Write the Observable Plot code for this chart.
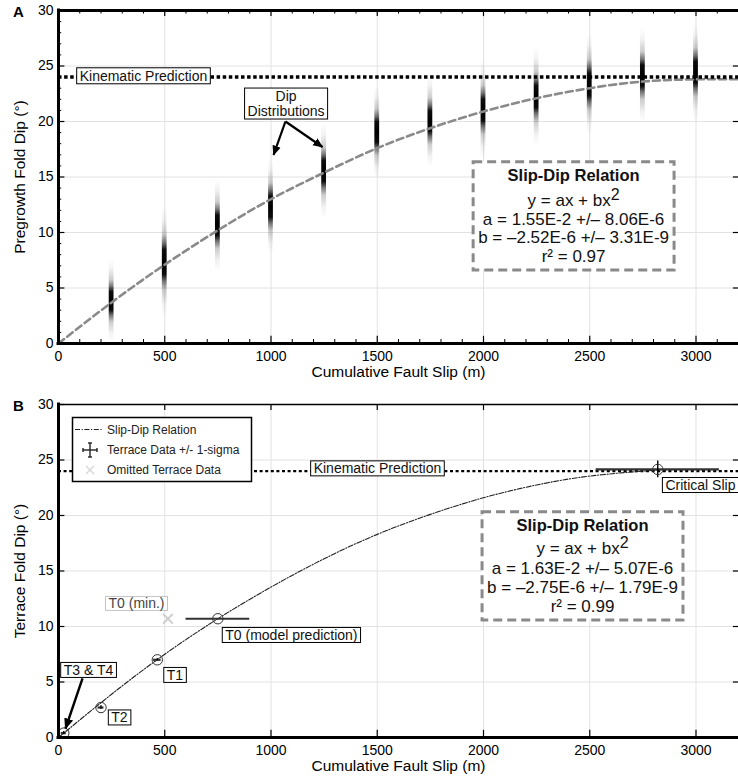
<!DOCTYPE html>
<html>
<head>
<meta charset="utf-8">
<script src="https://cdn.jsdelivr.net/npm/d3@7"></script>
<script src="https://cdn.jsdelivr.net/npm/@observablehq/plot@0.6"></script>
<style>
  html, body { margin: 0; padding: 0; background: #fff; }
  #chart { width: 738px; height: 782px; overflow: hidden; font-family: "Liberation Sans", Arial, Helvetica, sans-serif; }
  #chart svg { display: block; }
</style>
</head>
<body>
<div id="chart"></div>
<script>
// ================= shared axis values =================
const slipTicks = [0, 500, 1000, 1500, 2000, 2500, 3000];
const dipTicks = [0, 5, 10, 15, 20, 25, 30];
const slipMinorTicks = [100,200,300,400,600,700,800,900,1100,1200,1300,1400,1600,1700,1800,1900,2100,2200,2300,2400,2600,2700,2800,2900,3100];
const dipMinorTicks = [1,2,3,4,6,7,8,9,11,12,13,14,16,17,18,19,21,22,23,24,26,27,28,29];
const slipDomain = [0, 3200];
const dipDomain = [0, 30];
const kinematicDip = 24;
const xAxisTitle = "Cumulative Fault Slip (m)";

// ================= Panel A data =================
const panelALetter = "A";
const yAxisTitleA = "Pregrowth Fold Dip (°)";
// dip distributions (centre and half-extent of the smeared bar)
const distSlip = [250, 500, 750, 1000, 1250, 1500, 1750, 2000, 2250, 2500, 2750, 3000];
const distDip = [3.8, 7.3, 10.6, 12.3, 15.5, 19.0, 20.0, 21.0, 22.2, 23.3, 24.1, 24.4];
const distHalf = [3.8, 5.0, 4.2, 4.3, 4.3, 4.2, 4.2, 4.4, 4.5, 4.6, 4.3, 4.4];
// slip-dip relation
const fitASlip = [0, 250, 500, 750, 1000, 1250, 1500, 1750, 2000, 2250, 2500, 2750, 3000, 3200];
const fitADip = [0, 3.7, 7.1, 10.2, 13.0, 15.4, 17.6, 19.4, 20.9, 22.1, 23.0, 23.6, 23.8, 23.8];
// annotations
const labelsAText = ["Kinematic Prediction", "Dip\nDistributions"];
const labelsASlip = [400, 1071];
const labelsADip = [24.1, 21.6];
const arrowsAFromSlip = [1068, 1068];
const arrowsAFromDip = [20.0, 20.0];
const arrowsAToSlip = [1012, 1242];
const arrowsAToDip = [17.0, 17.7];
const fitATitle = "Slip-Dip Relation";
const fitALines = ["y = ax + bx²", "a = 1.55E-2 +/– 8.06E-6", "b = –2.52E-6 +/– 3.31E-9", "r² = 0.97"];
const fitABoxSlip = 2424;
const fitATitleDip = 15.14;
const fitABodyDip = 10.38;

// ================= Panel B data =================
const panelBLetter = "B";
const yAxisTitleB = "Terrace Fold Dip (°)";
const fitBSlip = [0, 250, 500, 750, 1000, 1250, 1500, 1750, 2000, 2250, 2500, 2750, 2820];
const fitBDip = [0, 3.9, 7.5, 10.7, 13.55, 16.1, 18.3, 20.1, 21.6, 22.75, 23.55, 24.0, 24.1];
const terraceSlip = [25, 200, 465, 750, 2820];
const terraceDip = [0.4, 2.7, 7.0, 10.7, 24.15];
const terraceSlipErr = [12, 14, 18, 150, 290];
const terraceDipErr = [0.15, 0.15, 0.1, 0, 0.75];
const omittedSlip = [515];
const omittedDip = [10.7];
const labelsBText = ["Kinematic Prediction", "T0 (model prediction)", "T1", "T2", "T3 & T4"];
const labelsBSlip = [1501, 1096, 548, 287, 141];
const labelsBDip = [24.2, 9.19, 5.59, 1.76, 6.04];
const criticalLabel = "Critical Slip";
const criticalLabelSlip = 2856;
const criticalLabelDip = 22.7;
const omittedLabel = "T0 (min.)";
const omittedLabelSlip = 367;
const omittedLabelDip = 12.03;
const arrowBFromSlip = [113];
const arrowBFromDip = [5.32];
const arrowBToSlip = [33];
const arrowBToDip = [0.81];
const fitBTitle = "Slip-Dip Relation";
const fitBLines = ["y = ax + bx²", "a = 1.63E-2 +/– 5.07E-6", "b = –2.75E-6 +/– 1.79E-9", "r² = 0.99"];
const fitBBoxSlip = 2466;
const fitBTitleDip = 19.1;
const fitBBodyDip = 14.46;
const legendLabels = ["Slip-Dip Relation", "Terrace Data +/- 1-sigma", "Omitted Terrace Data"];

// ================= helpers =================
const FONT = '"Liberation Sans", Arial, Helvetica, sans-serif';
const idx = (arr) => d3.range(arr.length);

function gridMarks() {
  return [
    Plot.ruleX(slipTicks.slice(1), {stroke: "#e2e2e2", strokeWidth: 1}),
    Plot.ruleY(dipTicks.slice(1, -1), {stroke: "#e2e2e2", strokeWidth: 1})
  ];
}

function frameMarks({minor, topWidth}) {
  const m = [];
  if (minor) {
    m.push(
      Plot.ruleX(slipMinorTicks, {y1: 0, y2: 0.36, stroke: "black", strokeWidth: 1}),
      Plot.ruleX(slipMinorTicks, {y1: 30, y2: 29.68, stroke: "black", strokeWidth: 1}),
      Plot.ruleY(dipMinorTicks, {x1: 0, x2: 15, stroke: "black", strokeWidth: 1})
    );
  }
  m.push(
    Plot.ruleX(slipTicks, {y1: 0, y2: 0.65, stroke: "black", strokeWidth: 1.2}),
    Plot.ruleX(slipTicks, {y1: 30, y2: 29.45, stroke: "black", strokeWidth: 1.2}),
    Plot.ruleY(dipTicks, {x1: 0, x2: 30, stroke: "black", strokeWidth: 1.2}),
    Plot.ruleY(dipTicks, {x1: slipDomain[1], x2: slipDomain[1] - 24, stroke: "black", strokeWidth: 1.2}),
    Plot.ruleY([0], {stroke: "black", strokeWidth: 3, strokeLinecap: "square"}),
    Plot.ruleX([0], {stroke: "black", strokeWidth: 3, strokeLinecap: "square"}),
    Plot.ruleY([30], {stroke: "black", strokeWidth: topWidth}),
    Plot.axisX({ticks: slipTicks, tickSize: 0, tickPadding: 8, tickFormat: (d) => String(d), label: null, fontSize: 14}),
    Plot.axisY({ticks: dipTicks, tickSize: 0, tickPadding: 5, tickFormat: (d) => String(d), label: null, fontSize: 14})
  );
  return m;
}

function titleMarks(letter, yTitle) {
  return [
    Plot.text([xAxisTitle], {frameAnchor: "bottom", dy: 29, fontSize: 15.5, lineAnchor: "middle", textAnchor: "middle"}),
    Plot.text([yTitle], {frameAnchor: "left", dx: -38, rotate: -90, fontSize: 15.5, lineAnchor: "middle", textAnchor: "middle"}),
    Plot.text([letter], {frameAnchor: "top-left", dx: -40, dy: 2, fontSize: 15, fontWeight: "bold", lineAnchor: "middle", textAnchor: "middle"})
  ];
}

function fitBoxMarks(slip, titleDip, bodyDip, title, lines, lineHeight) {
  return [
    Plot.text([title], {x: () => slip, y: () => titleDip, fontSize: 16.5, fontWeight: "bold", fill: "#111"}),
    Plot.text([lines.join("\n")], {x: () => slip, y: () => bodyDip, fontSize: 17, lineHeight, fill: "#111"})
  ];
}

// ================= Panel A =================
const chartA = Plot.plot({
  width: 738, height: 390,
  marginLeft: 58, marginRight: 0, marginTop: 10, marginBottom: 47,
  x: {domain: slipDomain},
  y: {domain: dipDomain},
  style: {fontFamily: FONT, fontSize: "14px", color: "black", background: "white", overflow: "visible"},
  marks: [
    ...gridMarks(),
    Plot.rect(idx(distSlip), {
      x1: (i) => distSlip[i], x2: (i) => distSlip[i],
      y1: (i) => distDip[i] - distHalf[i], y2: (i) => distDip[i] + distHalf[i],
      insetLeft: -2.4, insetRight: -2.4, fill: "url(#dipgrad)"
    }),
    Plot.line(idx(fitASlip), {x: (i) => fitASlip[i], y: (i) => fitADip[i], curve: "natural",
      stroke: "#8a8a8a", strokeWidth: 2.6, strokeDasharray: "7,4"}),
    Plot.ruleY([kinematicDip], {stroke: "black", strokeWidth: 3.5, strokeDasharray: "3.5,2.6"}),
    Plot.link(idx(arrowsAFromSlip), {
      x1: (i) => arrowsAFromSlip[i], y1: (i) => arrowsAFromDip[i],
      x2: (i) => arrowsAToSlip[i], y2: (i) => arrowsAToDip[i],
      stroke: "black", strokeWidth: 2.2
    }),
    Plot.text(idx(labelsAText), {x: (i) => labelsASlip[i], y: (i) => labelsADip[i], text: (i) => labelsAText[i],
      fontSize: 14, lineHeight: 1.07, fill: "#111"}),
    ...fitBoxMarks(fitABoxSlip, fitATitleDip, fitABodyDip, fitATitle, fitALines, 1.09),
    ...frameMarks({minor: true, topWidth: 3}),
    ...titleMarks(panelALetter, yAxisTitleA)
  ]
});

// ================= Panel B =================
const tIdx = idx(terraceSlip);
const chartB = Plot.plot({
  width: 738, height: 392,
  marginLeft: 58, marginRight: 0, marginTop: 14, marginBottom: 45,
  x: {domain: slipDomain},
  y: {domain: dipDomain},
  style: {fontFamily: FONT, fontSize: "14px", color: "black", background: "white", overflow: "visible"},
  marks: [
    ...gridMarks(),
    Plot.ruleY([kinematicDip], {stroke: "black", strokeWidth: 2.4, strokeDasharray: "3,2.6"}),
    Plot.line(idx(fitBSlip), {x: (i) => fitBSlip[i], y: (i) => fitBDip[i], curve: "natural",
      stroke: "#222", strokeWidth: 1.1, strokeDasharray: "5,1.6,1.2,1.6"}),
    Plot.ruleY(tIdx, {y: (i) => terraceDip[i], x1: (i) => terraceSlip[i] - terraceSlipErr[i], x2: (i) => terraceSlip[i] + terraceSlipErr[i],
      stroke: "#333", strokeWidth: 2.2}),
    Plot.ruleX(tIdx.filter((i) => terraceDipErr[i] > 0), {x: (i) => terraceSlip[i],
      y1: (i) => terraceDip[i] - terraceDipErr[i], y2: (i) => terraceDip[i] + terraceDipErr[i], stroke: "black", strokeWidth: 1.4}),
    Plot.dot(tIdx, {x: (i) => terraceSlip[i], y: (i) => terraceDip[i], r: 5.2, stroke: "#333", fill: "none", strokeWidth: 1}),
    Plot.dot(idx(omittedSlip), {x: (i) => omittedSlip[i], y: (i) => omittedDip[i], symbol: "times", r: 4.5,
      stroke: "#cdcdcd", strokeWidth: 2}),
    Plot.link(idx(arrowBFromSlip), {
      x1: (i) => arrowBFromSlip[i], y1: (i) => arrowBFromDip[i],
      x2: (i) => arrowBToSlip[i], y2: (i) => arrowBToDip[i],
      stroke: "black", strokeWidth: 2.4
    }),
    Plot.text(idx(labelsBText), {x: (i) => labelsBSlip[i], y: (i) => labelsBDip[i], text: (i) => labelsBText[i],
      fontSize: 14, fill: "#111"}),
    Plot.text([criticalLabel], {x: () => criticalLabelSlip, y: () => criticalLabelDip, textAnchor: "start",
      fontSize: 14, fill: "#111"}),
    Plot.text([omittedLabel], {x: () => omittedLabelSlip, y: () => omittedLabelDip,
      fontSize: 14, fill: "#444"}),
    ...fitBoxMarks(fitBBoxSlip, fitBTitleDip, fitBBodyDip, fitBTitle, fitBLines, 1.135),
    ...frameMarks({minor: false, topWidth: 1.6}),
    ...titleMarks(panelBLetter, yAxisTitleB)
  ]
});

const root = document.getElementById("chart");
root.appendChild(chartA);
root.appendChild(chartB);

// ================= post-processing =================
const NS = "http://www.w3.org/2000/svg";

function addDefs(svg, markerId, withGradient) {
  const grad = withGradient ? `
    <linearGradient id="dipgrad" x1="0" y1="0" x2="0" y2="1">
      <stop offset="0" stop-color="#000" stop-opacity="0"/>
      <stop offset="0.12" stop-color="#000" stop-opacity="0.05"/>
      <stop offset="0.25" stop-color="#000" stop-opacity="0.2"/>
      <stop offset="0.33" stop-color="#000" stop-opacity="0.55"/>
      <stop offset="0.39" stop-color="#000" stop-opacity="0.95"/>
      <stop offset="0.5" stop-color="#000" stop-opacity="1"/>
      <stop offset="0.61" stop-color="#000" stop-opacity="0.95"/>
      <stop offset="0.67" stop-color="#000" stop-opacity="0.55"/>
      <stop offset="0.75" stop-color="#000" stop-opacity="0.2"/>
      <stop offset="0.88" stop-color="#000" stop-opacity="0.05"/>
      <stop offset="1" stop-color="#000" stop-opacity="0"/>
    </linearGradient>` : "";
  d3.select(svg).insert("defs", ":first-child").html(grad + `
    <marker id="${markerId}" viewBox="0 0 10 10" refX="9" refY="5" markerWidth="4.6" markerHeight="4.6" orient="auto" markerUnits="strokeWidth">
      <path d="M0,0.8L10,5L0,9.2z" fill="black"/>
    </marker>`);
}

function setArrows(svg, markerId) {
  svg.querySelectorAll('g[aria-label="link"] path, g[aria-label="link"] line').forEach((p) => {
    p.setAttribute("marker-end", `url(#${markerId})`);
  });
}

function superscripts(svg) {
  const walker = document.createTreeWalker(svg, NodeFilter.SHOW_TEXT);
  const nodes = [];
  while (walker.nextNode()) nodes.push(walker.currentNode);
  nodes.forEach((n) => {
    if (n.data.includes("bx²")) {
      n.data = n.data.replace("bx²", "bx");
      const t = document.createElementNS(NS, "tspan");
      t.setAttribute("baseline-shift", "6");
      t.setAttribute("font-size", "16");
      t.textContent = "2";
      n.parentNode.appendChild(t);
    }
  });
}

const norm = (s) => s.replace(/[\s\n]/g, "");
function findTexts(svg, match) {
  return [...svg.querySelectorAll("text")].filter((t) => match(norm(t.textContent)));
}

function makeRect(box, pad, style) {
  const r = document.createElementNS(NS, "rect");
  r.setAttribute("x", box.x0 - pad.x);
  r.setAttribute("y", box.y0 - pad.y);
  r.setAttribute("width", box.x1 - box.x0 + 2 * pad.x);
  r.setAttribute("height", box.y1 - box.y0 + 2 * pad.y);
  for (const [k, v] of Object.entries(style)) r.setAttribute(k, v);
  return r;
}

function boxOf(svg, t) {
  const base = svg.getBoundingClientRect();
  const r = t.getBoundingClientRect();
  return {x0: r.left - base.left, y0: r.top - base.top, x1: r.right - base.left, y1: r.bottom - base.top};
}

// insert a rect at the svg root, right before the mark group holding the text
function insertBeforeGroup(svg, t, rect) {
  let g = t;
  while (g.parentNode && g.parentNode !== svg) g = g.parentNode;
  svg.insertBefore(rect, g);
}

function boxLabels(svg, labels, pad, style) {
  const wanted = new Set(labels.map(norm));
  findTexts(svg, (s) => wanted.has(s)).forEach((t) => {
    insertBeforeGroup(svg, t, makeRect(boxOf(svg, t), pad, style));
  });
}

function boxUnion(svg, matchers, pad, style) {
  const texts = findTexts(svg, (s) => matchers.some((m) => s.includes(norm(m))));
  if (!texts.length) return;
  let b = {x0: Infinity, y0: Infinity, x1: -Infinity, y1: -Infinity};
  texts.forEach((t) => {
    const c = boxOf(svg, t);
    b = {x0: Math.min(b.x0, c.x0), y0: Math.min(b.y0, c.y0), x1: Math.max(b.x1, c.x1), y1: Math.max(b.y1, c.y1)};
  });
  const first = texts.reduce((a, t) => (a.compareDocumentPosition(t) & Node.DOCUMENT_POSITION_PRECEDING) ? t : a);
  insertBeforeGroup(svg, first, makeRect(b, pad, style));
}

addDefs(chartA, "aheadA", true);
addDefs(chartB, "aheadB", false);
setArrows(chartA, "aheadA");
setArrows(chartB, "aheadB");
superscripts(chartA);
superscripts(chartB);

const thinBox = {fill: "white", stroke: "black", "stroke-width": 1};
const grayBox = {fill: "white", stroke: "#c4c4c4", "stroke-width": 1};
const dashBox = {fill: "white", stroke: "#8a8a8a", "stroke-width": 3, "stroke-dasharray": "9,5"};
boxLabels(chartA, labelsAText, {x: 3, y: 0}, thinBox);
boxLabels(chartB, labelsBText.concat([criticalLabel]), {x: 3, y: -0.5}, thinBox);
boxLabels(chartB, [omittedLabel], {x: 3, y: -1}, grayBox);
boxUnion(chartA, [fitATitle, fitALines[1]], {x: 5, y: 4}, dashBox);
boxUnion(chartB, [fitBTitle, fitBLines[1]], {x: 5, y: 4}, dashBox);

// legend for panel B (pixel layout inside the plot frame)
(function legend() {
  const g = d3.select(chartB).append("g").attr("font-family", FONT).attr("font-size", 12)
    .attr("fill", "#222").attr("text-anchor", "start");
  g.append("rect").attr("x", 72.5).attr("y", 27.5).attr("width", 179).attr("height", 64)
    .attr("fill", "white").attr("stroke", "black").attr("stroke-width", 1.5);
  g.append("line").attr("x1", 75).attr("x2", 102).attr("y1", 39.5).attr("y2", 39.5)
    .attr("stroke", "#222").attr("stroke-width", 1.2).attr("stroke-dasharray", "5,1.6,1.2,1.6");
  // error-bar cross
  const c = g.append("g").attr("stroke", "#222").attr("stroke-width", 1.4);
  c.append("line").attr("x1", 90).attr("x2", 90).attr("y1", 53).attr("y2", 67);
  c.append("line").attr("x1", 83).attr("x2", 97).attr("y1", 60).attr("y2", 60);
  c.append("line").attr("x1", 88).attr("x2", 92).attr("y1", 53).attr("y2", 53);
  c.append("line").attr("x1", 88).attr("x2", 92).attr("y1", 67).attr("y2", 67);
  c.append("line").attr("x1", 83).attr("x2", 83).attr("y1", 58).attr("y2", 62);
  c.append("line").attr("x1", 97).attr("x2", 97).attr("y1", 58).attr("y2", 62);
  // omitted marker
  const x = g.append("g").attr("stroke", "#d8d8d8").attr("stroke-width", 1.5);
  x.append("line").attr("x1", 86).attr("x2", 94).attr("y1", 76).attr("y2", 84);
  x.append("line").attr("x1", 86).attr("x2", 94).attr("y1", 84).attr("y2", 76);
  [39.5, 60, 80].forEach((yy, i) => {
    g.append("text").attr("x", 107).attr("y", yy).attr("dy", "0.35em").attr("text-anchor", "start").text(legendLabels[i]);
  });
})();
</script>
</body>
</html>
